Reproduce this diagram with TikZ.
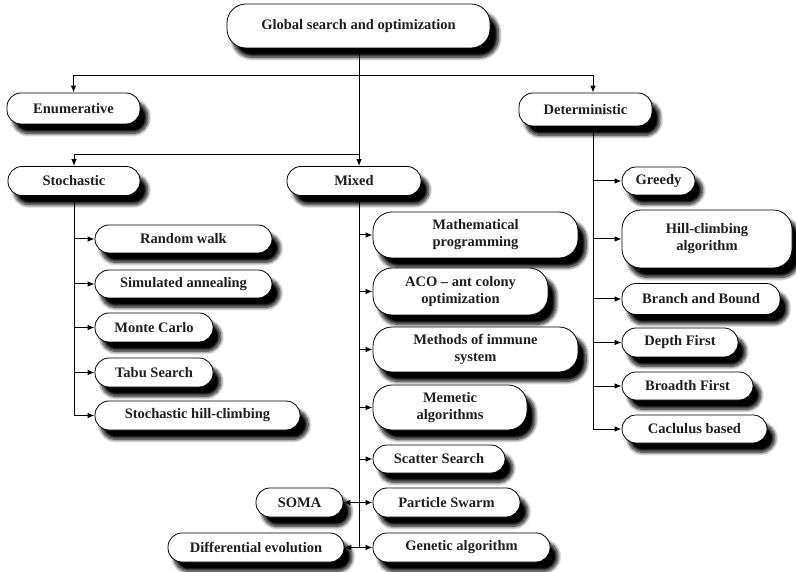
\documentclass[tikz,border=0pt]{standalone}
\usepackage{fontspec}
\setmainfont{Liberation Serif}
\newfontfamily\labelfont{Liberation Serif}[Ligatures=TeX, BoldFont={* Bold}]
\usetikzlibrary{arrows.meta,shadows.blur}

\begin{document}
\begin{tikzpicture}[x=1pt,y=-1pt,
  box/.style={draw, line width=0.8pt, fill=white, rounded corners=14pt,
    inner sep=0pt, align=center, text=black!88,
    font=\labelfont\bfseries\fontsize{14.5}{17}\selectfont,
    blur shadow={shadow xshift=7pt, shadow yshift=-9pt,
      shadow blur radius=3.5pt, shadow opacity=100, shadow blur steps=10,
      shadow scale=1.01}},
  tall/.style={rounded corners=19pt},
  link/.style={line width=1pt},
  arr/.style={link, -{Latex[length=7pt,width=5.5pt]}}]
\useasboundingbox (0,0) rectangle (796,572);

% root and first level
\node[box, tall, minimum width=263pt, minimum height=44pt] (global) at (358.5,26) {Global search and optimization};
\node[box, minimum width=133pt, minimum height=31pt] (enum) at (73.5,108.5) {Enumerative};
\node[box, minimum width=133pt, minimum height=33pt] (det) at (585.5,109.5) {Deterministic};
\node[box, minimum width=132pt, minimum height=29pt] (stoch) at (74,181) {Stochastic};
\node[box, minimum width=134pt, minimum height=29pt] (mixed) at (354,181) {Mixed};

% stochastic methods
\node[box, minimum width=177pt, minimum height=28pt] (rw) at (183.5,239) {Random walk};
\node[box, minimum width=177pt, minimum height=28pt] (sa) at (183.5,284) {Simulated annealing};
\node[box, minimum width=118pt, minimum height=29pt] (mc) at (154,327.5) {Monte Carlo};
\node[box, minimum width=118pt, minimum height=29pt] (tabu) at (154,372.5) {Tabu Search};
\node[box, minimum width=205pt, minimum height=29pt] (shc) at (197.5,415.5) {Stochastic hill-climbing};

% mixed methods
\node[box, tall, minimum width=205pt, minimum height=46pt] (math) at (475.5,235) {Mathematical\\programming};
\node[box, tall, minimum width=175pt, minimum height=47pt] (aco) at (460.5,291.5) {ACO -- ant colony\\optimization};
\node[box, tall, minimum width=205pt, minimum height=45pt] (immune) at (475.5,349.5) {Methods of immune\\system};
\node[box, tall, minimum width=154pt, minimum height=45pt] (memetic) at (450,407.5) {Memetic\\algorithms};
\node[box, minimum width=132pt, minimum height=28pt] (scatter) at (439,459) {Scatter Search};
\node[box, minimum width=147pt, minimum height=29pt] (pso) at (446.5,502.5) {Particle Swarm};
\node[box, minimum width=177pt, minimum height=29pt] (ga) at (461.5,547.5) {Genetic algorithm};
\node[box, minimum width=87pt, minimum height=29pt] (soma) at (299.5,502.5) {SOMA};
\node[box, minimum width=176pt, minimum height=29pt] (de) at (256,547.5) {Differential evolution};

% deterministic methods
\node[box, minimum width=73pt, minimum height=28pt] (greedy) at (658.5,181) {Greedy};
\node[box, tall, minimum width=170pt, minimum height=58pt] (hill) at (707,239) {Hill-climbing\\algorithm};
\node[box, minimum width=158pt, minimum height=31pt] (bb) at (701,299) {Branch and Bound};
\node[box, minimum width=116pt, minimum height=29pt] (depth) at (680,342.5) {Depth First};
\node[box, minimum width=131pt, minimum height=28pt] (broad) at (687.5,386) {Broadth First};
\node[box, minimum width=145pt, minimum height=28pt] (calc) at (694.5,429) {Caclulus based};

% bus points
\coordinate (topbus) at (359,76);
\coordinate (midbus) at (359,155);
\coordinate (detbus) at (593,76);

% top level connectors
\draw[link] (global.south -| topbus) -- (topbus);
\draw[arr] (topbus) -| (enum.north);
\draw[arr] (topbus) -- (detbus) -- (det.north -| detbus);
\draw[arr] (topbus) -- (mixed.north -| topbus);
\draw[arr] (midbus) -| (stoch.north);

% stochastic branch
\foreach \n in {rw,sa,mc,tabu,shc}
  \draw[arr] (stoch.south) |- (\n.west);

% mixed branch
\foreach \n in {math,aco,immune,memetic,scatter,pso,ga}
  \draw[arr] (mixed.south -| topbus) |- (\n.west);
\foreach \n in {soma,de}
  \draw[arr] (mixed.south -| topbus) |- (\n.east);

% deterministic branch
\foreach \n in {greedy,hill,bb,depth,broad,calc}
  \draw[arr] (det.south -| detbus) |- (\n.west);
\end{tikzpicture}
\end{document}
